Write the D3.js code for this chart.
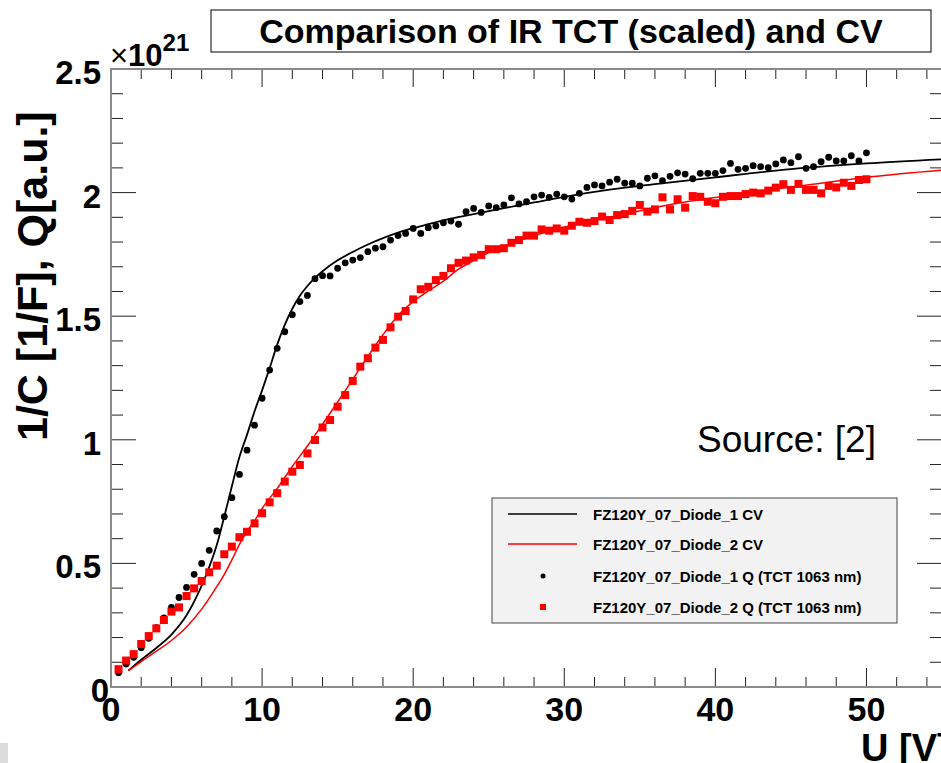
<!DOCTYPE html>
<html>
<head>
<meta charset="utf-8">
<script src="https://cdn.jsdelivr.net/npm/d3@7"></script>
<style>
  body { margin: 0; background: #fff; }
  svg { display: block; font-family: 'Liberation Sans', Arial, sans-serif; }
</style>
</head>
<body>
<svg id="chart" width="941" height="763"></svg>
<script>
'use strict'

// Q measurements (TCT 1063 nm), bias voltage in V
var qVoltage = [0.5, 1, 1.5, 2, 2.5, 3, 3.5, 4, 4.5, 5, 5.5, 6, 6.5, 7, 7.5, 8, 8.5, 9, 9.5, 10,
  10.5, 11, 11.5, 12, 12.5, 13, 13.5, 14, 14.5, 15, 15.5, 16, 16.5, 17, 17.5, 18, 18.5, 19, 19.5, 20,
  20.5, 21, 21.5, 22, 22.5, 23, 23.5, 24, 24.5, 25, 25.5, 26, 26.5, 27, 27.5, 28, 28.5, 29, 29.5, 30,
  30.5, 31, 31.5, 32, 32.5, 33, 33.5, 34, 34.5, 35, 35.5, 36, 36.5, 37, 37.5, 38, 38.5, 39, 39.5, 40,
  40.5, 41, 41.5, 42, 42.5, 43, 43.5, 44, 44.5, 45, 45.5, 46, 46.5, 47, 47.5, 48, 48.5, 49, 49.5, 50]

// values in units of 1e21
var diode1Q = [0.058, 0.093, 0.120, 0.159, 0.197, 0.240, 0.280, 0.322, 0.362, 0.403,
  0.456, 0.500, 0.553, 0.631, 0.689, 0.766, 0.860, 0.958, 1.059, 1.168,
  1.282, 1.370, 1.437, 1.506, 1.559, 1.584, 1.652, 1.664, 1.663, 1.694,
  1.716, 1.727, 1.737, 1.761, 1.775, 1.781, 1.808, 1.826, 1.835, 1.855,
  1.835, 1.858, 1.865, 1.878, 1.885, 1.872, 1.923, 1.936, 1.920, 1.946,
  1.939, 1.950, 1.979, 1.954, 1.963, 1.983, 1.990, 1.981, 1.994, 1.983,
  1.974, 1.997, 2.021, 2.031, 2.027, 2.042, 2.054, 2.038, 2.038, 2.027,
  2.058, 2.068, 2.048, 2.066, 2.080, 2.075, 2.056, 2.078, 2.078, 2.078,
  2.089, 2.118, 2.094, 2.098, 2.109, 2.105, 2.101, 2.116, 2.132, 2.121,
  2.145, 2.098, 2.105, 2.125, 2.143, 2.128, 2.128, 2.149, 2.128, 2.161]

var diode2Q = [0.072, 0.107, 0.133, 0.174, 0.206, 0.237, 0.271, 0.305, 0.322, 0.368,
  0.399, 0.429, 0.464, 0.491, 0.537, 0.568, 0.606, 0.628, 0.662, 0.703,
  0.747, 0.784, 0.831, 0.871, 0.898, 0.945, 0.999, 1.050, 1.080, 1.134,
  1.181, 1.238, 1.296, 1.330, 1.373, 1.404, 1.455, 1.498, 1.521, 1.568,
  1.609, 1.619, 1.646, 1.663, 1.694, 1.716, 1.725, 1.738, 1.748, 1.771,
  1.771, 1.775, 1.797, 1.808, 1.826, 1.826, 1.851, 1.846, 1.855, 1.846,
  1.866, 1.882, 1.878, 1.885, 1.903, 1.889, 1.909, 1.913, 1.926, 1.950,
  1.923, 1.932, 1.981, 1.932, 1.973, 1.939, 1.986, 1.983, 1.963, 1.957,
  1.983, 1.986, 1.986, 1.994, 2.000, 1.997, 2.008, 2.020, 2.034, 2.011,
  2.035, 2.011, 2.011, 1.997, 2.027, 2.021, 2.040, 2.027, 2.051, 2.054]

// CV curves (scaled 1/C)
var cv1Voltage = [1.15, 2, 3, 4, 5, 6, 6.5, 7, 7.5, 8, 8.5, 9, 9.5, 10, 10.5, 11, 11.5, 12, 12.5, 13,
  13.5, 14, 15, 16, 17, 18, 19, 20, 21, 22, 24, 26, 28, 30, 33, 36, 40, 45, 50, 55]
var cv1Value = [0.066, 0.110, 0.158, 0.212, 0.290, 0.410, 0.485, 0.574, 0.690, 0.812, 0.930, 1.020, 1.115, 1.200,
  1.290, 1.385, 1.465, 1.530, 1.583, 1.622, 1.655, 1.682, 1.726, 1.760, 1.790, 1.816, 1.838, 1.856,
  1.872, 1.888, 1.913, 1.937, 1.960, 1.983, 2.012, 2.034, 2.062, 2.095, 2.118, 2.135]

var cv2Voltage = [1.15, 2, 3, 4, 5, 6, 7, 7.5, 8, 8.5, 9, 9.5, 10, 11, 12, 13, 14, 15, 16, 17,
  18, 19, 20, 21, 22, 23, 24, 25, 27, 29, 31.5, 33.7, 36, 38, 40, 43.6, 47, 50.3, 55]
var cv2Value = [0.066, 0.103, 0.145, 0.188, 0.243, 0.315, 0.406, 0.456, 0.514, 0.577, 0.630, 0.672, 0.722,
  0.803, 0.892, 0.975, 1.063, 1.153, 1.245, 1.337, 1.425, 1.503, 1.559, 1.602, 1.642, 1.690,
  1.725, 1.757, 1.805, 1.845, 1.882, 1.909, 1.940, 1.962, 1.980, 2.011, 2.038, 2.064, 2.091]

var legendLabels = ['FZ120Y_07_Diode_1 CV', 'FZ120Y_07_Diode_2 CV',
  'FZ120Y_07_Diode_1 Q (TCT 1063 nm)', 'FZ120Y_07_Diode_2 Q (TCT 1063 nm)']

var xTicks = [0, 10, 20, 30, 40, 50]
var yTicks = [0, 0.5, 1, 1.5, 2, 2.5]

var svg = d3.select('#chart')
var frame = { left: 111, right: 942, top: 69, bottom: 687 }

var x = d3.scaleLinear().domain([0, 55]).range([frame.left, frame.right])
var y = d3.scaleLinear().domain([0, 2.5]).range([frame.bottom, frame.top])

// minor/major ticks on all four sides
var xMinor = d3.range(0, 56, 2).filter((d) => d % 10 !== 0)
var yMinor = d3.range(0, 2.51, 0.1).filter((d) => Math.abs(d * 2 - Math.round(d * 2)) > 0.01)

var ticks = svg.append('g').attr('stroke', '#222').attr('stroke-width', 1)

function tickLines (vals, len, horizontal) {
  vals.forEach((v) => {
    if (horizontal) {
      ticks.append('line').attr('x1', x(v)).attr('x2', x(v))
        .attr('y1', frame.bottom).attr('y2', frame.bottom - len.b)
      ticks.append('line').attr('x1', x(v)).attr('x2', x(v))
        .attr('y1', frame.top).attr('y2', frame.top + len.t)
    } else {
      ticks.append('line').attr('y1', y(v)).attr('y2', y(v))
        .attr('x1', frame.left).attr('x2', frame.left + len.b)
      ticks.append('line').attr('y1', y(v)).attr('y2', y(v))
        .attr('x1', frame.right).attr('x2', frame.right - len.t)
    }
  })
}
tickLines(xTicks, { b: 19, t: 18 }, true)
tickLines(xMinor, { b: 10, t: 10 }, true)
tickLines(yTicks, { b: 25, t: 25 }, false)
tickLines(yMinor, { b: 12, t: 12 }, false)

// frame
svg.append('rect')
  .attr('x', frame.left).attr('y', frame.top)
  .attr('width', frame.right - frame.left).attr('height', frame.bottom - frame.top)
  .attr('fill', 'none').attr('stroke', '#8a8a8a').attr('stroke-width', 2)

// tick labels
svg.append('g').selectAll('text')
  .data(xTicks)
  .enter().append('text')
    .attr('x', (d) => x(d))
    .attr('y', 721)
    .attr('text-anchor', 'middle')
    .attr('font-size', 34).attr('font-weight', 'bold')
    .text((d) => d)

svg.append('g').selectAll('text')
  .data(yTicks)
  .enter().append('text')
    .attr('x', (d) => d === 0 ? 109 : 101)
    .attr('y', (d) => y(d) + 15)
    .attr('text-anchor', 'end')
    .attr('font-size', 33).attr('font-weight', 'bold')
    .text((d) => d)

// exponent
var expo = svg.append('text').attr('x', 110).attr('y', 66)
  .attr('font-size', 31).attr('font-weight', 'bold')
expo.append('tspan').attr('font-weight', 'normal').text('\u00d7')
expo.append('tspan').text('10')
expo.append('tspan').attr('dy', -15).attr('font-size', 24).text('21')

// axis titles
svg.append('text')
  .attr('transform', 'translate(47,' + 441 + ') rotate(-90)')
  .attr('font-size', 43).attr('font-weight', 'bold')
  .text('1/C [1/F], Q[a.u.]')

svg.append('text')
  .attr('x', 861).attr('y', 761)
  .attr('font-size', 38).attr('font-weight', 'bold')
  .text('U [V]')

// title box
svg.append('rect')
  .attr('x', 211).attr('y', 10).attr('width', 720).attr('height', 42)
  .attr('fill', '#fff').attr('stroke', '#000').attr('stroke-width', 1)
svg.append('text')
  .attr('x', 571).attr('y', 43)
  .attr('text-anchor', 'middle')
  .attr('font-size', 34).attr('font-weight', 'bold')
  .text('Comparison of IR TCT (scaled) and CV')

// CV lines
var line = d3.line()
  .curve(d3.curveMonotoneX)
  .x((d) => x(d[0]))
  .y((d) => y(d[1]))

svg.append('path')
  .datum(d3.zip(cv1Voltage, cv1Value))
  .attr('d', line)
  .attr('fill', 'none').attr('stroke', '#000').attr('stroke-width', 1.8)

svg.append('path')
  .datum(d3.zip(cv2Voltage, cv2Value))
  .attr('d', line)
  .attr('fill', 'none').attr('stroke', '#ff0000').attr('stroke-width', 1.5)

// Q markers
svg.append('g').selectAll('circle')
  .data(d3.zip(qVoltage, diode1Q))
  .enter().append('circle')
    .attr('cx', (d) => x(d[0]))
    .attr('cy', (d) => y(d[1]))
    .attr('r', 3.4)
    .attr('fill', '#000')

svg.append('g').selectAll('rect')
  .data(d3.zip(qVoltage, diode2Q))
  .enter().append('rect')
    .attr('x', (d) => x(d[0]) - 4)
    .attr('y', (d) => y(d[1]) - 4)
    .attr('width', 8).attr('height', 8)
    .attr('fill', '#ff0000')

// Source note
svg.append('text')
  .attr('x', 697).attr('y', 452)
  .attr('font-size', 37)
  .text('Source: [2]')

// legend
var legend = svg.append('g')
legend.append('rect')
  .attr('x', 492).attr('y', 498).attr('width', 405).attr('height', 125)
  .attr('fill', '#f2f2f2').attr('stroke', '#444').attr('stroke-width', 1)

var rowY = [514, 544, 576, 607]
legendLabels.forEach((lab, i) => {
  var ry = rowY[i]
  if (i === 0 || i === 1) {
    legend.append('line')
      .attr('x1', 508).attr('x2', 577).attr('y1', ry).attr('y2', ry)
      .attr('stroke', i === 0 ? '#000' : '#ff0000').attr('stroke-width', 1.5)
  } else if (i === 2) {
    legend.append('circle').attr('cx', 543).attr('cy', ry).attr('r', 2.5).attr('fill', '#000')
  } else {
    legend.append('rect').attr('x', 540).attr('y', ry - 3).attr('width', 6).attr('height', 6)
      .attr('fill', '#ff0000')
  }
  legend.append('text')
    .attr('x', 593).attr('y', ry + 5.5)
    .attr('font-size', 15).attr('font-weight', 'bold')
    .text(lab)
})

// stray grey patch at the lower-left corner of the original picture
svg.append('rect')
  .attr('x', 0).attr('y', 743).attr('width', 8).attr('height', 20)
  .attr('fill', '#dcdcdc')
</script>
</body>
</html>
